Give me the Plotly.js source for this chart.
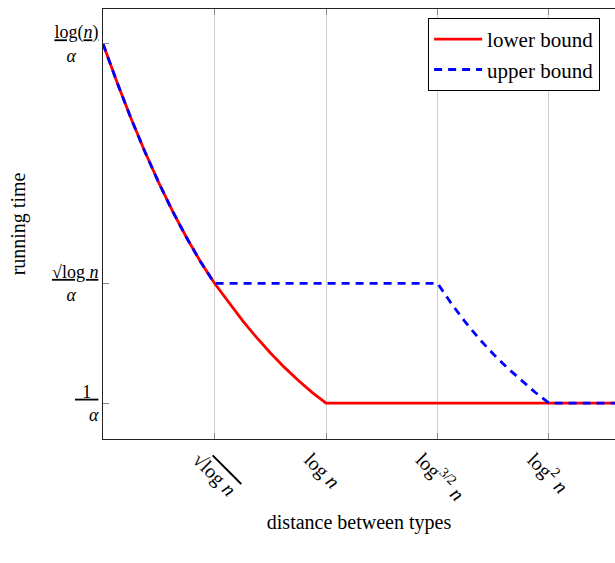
<!DOCTYPE html>
<html>
<head>
<meta charset="utf-8">
<script src="https://cdn.plot.ly/plotly-3.0.1.min.js"></script>
<style>
html,body{margin:0;padding:0;background:#fff;overflow:hidden;}
#chart{width:615px;height:563px;}
</style>
</head>
<body>
<div id="chart"></div>
<script>
// ---- data (x in tick units, y in running-time units) ----
var lowerX = [0, 0.125, 0.25, 0.375, 0.5, 0.625, 0.75, 0.875, 1,
              1.125, 1.25, 1.375, 1.5, 1.625, 1.75, 1.875, 2, 4.6];
var lowerY = [4, 3.68, 3.38, 3.10, 2.84, 2.60, 2.38, 2.18, 2.00,
              1.84, 1.69, 1.55, 1.42, 1.30, 1.19, 1.09, 1.00, 1.00];
var upperX = [0, 0.125, 0.25, 0.375, 0.5, 0.625, 0.75, 0.875, 1,
              3, 3.125, 3.25, 3.375, 3.5, 3.625, 3.75, 3.875, 4, 4.6];
var upperY = [4, 3.68, 3.38, 3.10, 2.84, 2.60, 2.38, 2.18, 2.00,
              2.00, 1.83, 1.675, 1.535, 1.41, 1.295, 1.19, 1.09, 1.00, 1.00];

var xTickVals = [1, 2, 3, 4];
var xTickText = [
  "\u221A<span style=\"text-decoration:overline\">log <i>n</i></span>",
  "log <i>n</i>",
  "log<sup>3/2</sup> <i>n</i>",
  "log<sup>2</sup> <i>n</i>"
];
var yTickVals = [1, 2, 4];
var yTickText = [
  "<u>\u2009\u20091\u2009\u2009</u><br><i>\u03B1</i>",
  "<u>\u221Alog <i>n</i></u><br><i>\u03B1</i>\u00A0\u00A0\u00A0\u00A0\u00A0",
  "<u>log(<i>n</i>)</u><br><i>\u03B1</i>\u00A0\u00A0\u00A0\u00A0\u00A0"
];
var seriesNames = ["lower bound", "upper bound"];

var serif = "Liberation Serif, Times New Roman, serif";

var traces = [
  {x: lowerX, y: lowerY, name: seriesNames[0], mode: "lines", type: "scatter",
   line: {color: "#ff0000", width: 2.8}},
  {x: upperX, y: upperY, name: seriesNames[1], mode: "lines", type: "scatter",
   line: {color: "#0000ff", width: 2.8, dash: "8px,6px"}}
];

var layout = {
  width: 615, height: 563,
  margin: {l: 103, r: 0, t: 9, b: 124},
  paper_bgcolor: "#fff", plot_bgcolor: "#fff",
  font: {family: serif, color: "#000", size: 18},
  showlegend: true,
  legend: {x: 0.635, y: 0.979, xanchor: "left", yanchor: "top",
           bgcolor: "#fff", bordercolor: "#000", borderwidth: 1,
           font: {family: serif, size: 21}, itemwidth: 48, tracegroupgap: 0},
  xaxis: {
    range: [0, 4.592], tickmode: "array", tickvals: xTickVals, ticktext: xTickText,
    tickangle: 45, ticklabelshift: -16, ticklabelstandoff: 0,
    showgrid: true, gridcolor: "#d0d0d0", gridwidth: 1,
    ticks: "inside", ticklen: 6, tickcolor: "#8a8a8a",
    showline: true, linecolor: "#222", linewidth: 1, mirror: "allticks",
    zeroline: false, tickfont: {family: serif, size: 20},
    title: {text: "distance between types", font: {family: serif, size: 20}, standoff: 10}
  },
  yaxis: {
    range: [0.7, 4.29], tickmode: "array", tickvals: yTickVals, ticktext: yTickText,
    showgrid: false, ticks: "inside", ticklen: 6, tickcolor: "#8a8a8a",
    showline: true, linecolor: "#222", linewidth: 1, mirror: false,
    zeroline: false, tickfont: {family: serif, size: 18},
    title: {text: "running time", font: {family: serif, size: 20}, standoff: 21}
  }
};

Plotly.newPlot("chart", traces, layout, {displayModeBar: false, staticPlot: true});
</script>
</body>
</html>
